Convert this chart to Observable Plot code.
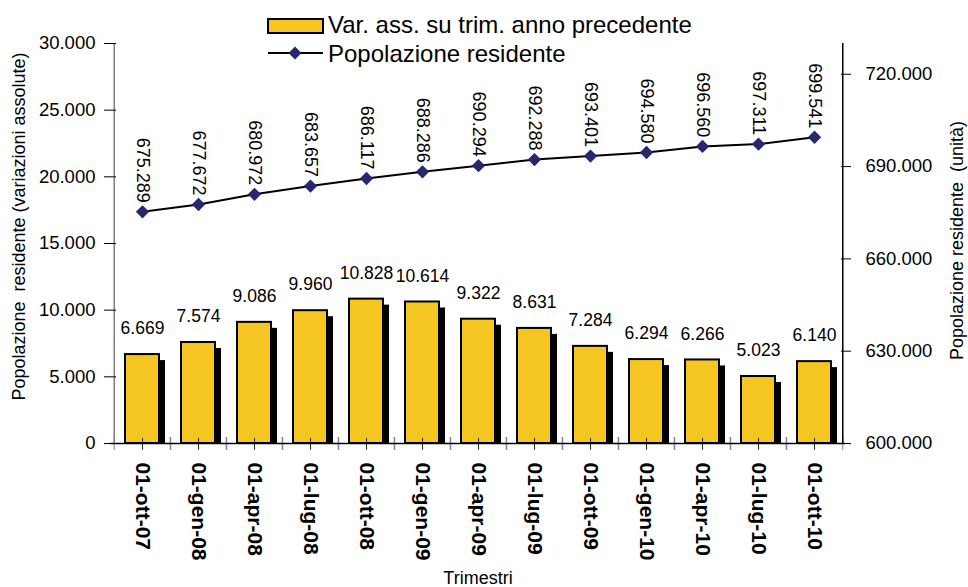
<!DOCTYPE html>
<html><head><meta charset="utf-8">
<script src="https://cdn.jsdelivr.net/npm/d3@7"></script>
<script src="https://cdn.jsdelivr.net/npm/@observablehq/plot@0.6"></script>
<style>
body{margin:0;background:#fff;font-family:"Liberation Sans",Arial,sans-serif;}
#wrap{position:relative;width:968px;height:587px;}
#legend{position:absolute;left:0;top:0;}
svg text{white-space:pre;}
</style></head><body><div id="wrap"></div>
<script>
const trimestri = ["01-ott-07","01-gen-08","01-apr-08","01-lug-08","01-ott-08","01-gen-09","01-apr-09","01-lug-09","01-ott-09","01-gen-10","01-apr-10","01-lug-10","01-ott-10"];
const variazioni = [6669,7574,9086,9960,10828,10614,9322,8631,7284,6294,6266,5023,6140];
const popolazione = [675289,677672,680972,683657,686117,688286,690294,692288,693401,694580,696560,697311,699541];
const leftTicks = [0,5000,10000,15000,20000,25000,30000];
const rightTicks = [600000,630000,660000,690000,720000];
const leftDomain = [0,30000];
const rightDomain = [600000,730000];
const serieBarre = "Var. ass. su trim. anno precedente";
const serieLinea = "Popolazione residente";
const titoloSx = "Popolazione  residente (variazioni assolute)";
const titoloDx = "Popolazione residente  (unità)";
const titoloX = "Trimestri";

const it = d3.formatLocale({decimal:",", thousands:".", grouping:[3], currency:["€",""]});
const fmt = it.format(",d");
const toLeft = v => leftDomain[0] + (v - rightDomain[0])/(rightDomain[1]-rightDomain[0])*(leftDomain[1]-leftDomain[0]);
const fromLeft = t => rightDomain[0] + (t - leftDomain[0])/(leftDomain[1]-leftDomain[0])*(rightDomain[1]-rightDomain[0]);

const data = trimestri.map((t,i)=>({t, v: variazioni[i], p: popolazione[i]}));

const W=968, H=587, mL=110, mR=123, mT=43, mB=144;
const step = (W-mL-mR)/trimestri.length;
const half = step/2;
const YELLOW = "#F5C521", NAVY = "#26286F";

const chart = Plot.plot({
  width: W, height: H,
  marginLeft: mL, marginRight: mR, marginTop: mT, marginBottom: mB,
  style: {fontFamily: '"Liberation Sans", Arial, sans-serif', fontSize: "18px", color: "#000", background: "white"},
  x: {type: "band", domain: trimestri, paddingInner: 0.4, paddingOuter: 0.2},
  y: {domain: leftDomain, nice: false},
  marks: [
    // shadows and bars
    Plot.barY(data, {x: "t", y: "v", fill: "black", dx: 6, dy: 6, insetBottom: 6}),
    Plot.barY(data, {x: "t", y: "v", fill: YELLOW, stroke: "black", strokeWidth: 2}),
    Plot.text(data, {x: "t", y: "v", text: d => fmt(d.v), dy: -26, lineAnchor: "middle", fontSize: 17.5}),
    // x axis: boundary ticks, center ticks, labels
    Plot.axisX({tickSize: 13, dx: -half, dy: -6, stroke: "#808080", tickFormat: () => "", label: null}),
    Plot.axisX({tickSize: 13, dx: half, dy: -6, stroke: "#808080", tickFormat: () => "", label: null}),
    Plot.axisX({tickSize: 12, dy: -5, stroke: "#333", tickFormat: () => "", label: null}),
    Plot.text(trimestri, {x: d => d, frameAnchor: "bottom", rotate: 90, textAnchor: "start", lineAnchor: "middle", dy: 19, fontSize: 21, fontWeight: "bold"}),
    Plot.ruleY([0], {stroke: "black", strokeWidth: 1.5}),
    // left axis
    Plot.ruleX([trimestri[0]], {dx: -half, stroke: "#808080", strokeWidth: 1.5}),
    Plot.axisY(leftTicks, {anchor: "left", tickSize: 12, dx: 6, tickFormat: () => "", label: null}),
    Plot.axisY(leftTicks, {anchor: "left", tickSize: 0, tickPadding: 15, tickFormat: fmt, fontSize: 18.5, label: null}),
    // right axis
    Plot.ruleX([trimestri[trimestri.length-1]], {dx: half, stroke: "black", strokeWidth: 1.5}),
    Plot.axisY(rightTicks.map(toLeft), {anchor: "right", tickSize: 10, dx: -5, tickFormat: () => "", label: null}),
    Plot.axisY(rightTicks.map(toLeft), {anchor: "right", tickSize: 0, tickPadding: 20, tickFormat: t => fmt(Math.round(fromLeft(t))), fontSize: 18.5, label: null}),
    // line series
    Plot.line(data, {x: "t", y: d => toLeft(d.p), stroke: "black", strokeWidth: 2}),
    Plot.dot(data, {x: "t", y: d => toLeft(d.p), symbol: "diamond2", r: 6, fill: NAVY, stroke: "none"}),
    Plot.text(data, {x: "t", y: d => toLeft(d.p), text: d => fmt(d.p), rotate: 90, textAnchor: "end", lineAnchor: "middle", dy: -9, fontSize: 18}),
    // titles
    Plot.text([titoloSx], {frameAnchor: "left", rotate: -90, dx: -91, dy: -17, textAnchor: "middle", lineAnchor: "middle", fontSize: 18}),
    Plot.text([titoloDx], {frameAnchor: "right", rotate: -90, dx: 112, dy: -3, textAnchor: "middle", lineAnchor: "middle", fontSize: 18}),
    Plot.text([titoloX], {frameAnchor: "bottom", dy: 135, textAnchor: "middle", lineAnchor: "middle", fontSize: 18})
  ]
});
const wrap = document.getElementById("wrap");
wrap.appendChild(chart);

// legend
const ns = "http://www.w3.org/2000/svg";
const lg = document.createElementNS(ns, "svg");
lg.setAttribute("id", "legend");
lg.setAttribute("width", 968); lg.setAttribute("height", 75);
lg.innerHTML = `
  <rect x="268" y="19" width="55" height="14" fill="${YELLOW}" stroke="black" stroke-width="2"/>
  <text x="328" y="33" font-size="24" font-family="Liberation Sans, Arial, sans-serif" fill="#000">${serieBarre}</text>
  <line x1="268" x2="323" y1="53" y2="53" stroke="black" stroke-width="2"/>
  <path d="M295,46.5L301.5,53L295,59.5L288.5,53Z" fill="${NAVY}"/>
  <text x="328" y="62" font-size="24" font-family="Liberation Sans, Arial, sans-serif" fill="#000">${serieLinea}</text>`;
wrap.appendChild(lg);
</script></body></html>
